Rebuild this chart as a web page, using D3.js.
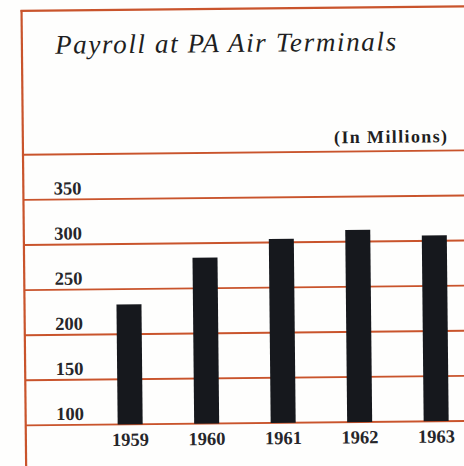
<!DOCTYPE html>
<html lang="en">
<head>
  <meta charset="UTF-8">
  <script src="https://d3js.org/d3.v7.min.js"></script>
  <title>Payroll at PA Air Terminals</title>
  <style>
    body { margin: 0; background: #fefefd; }
  </style>
</head>
<body>
  <svg id="chart" width="464" height="466"></svg>
  <script>
    // data (millions of dollars)
    var years = ["1959", "1960", "1961", "1962", "1963"];
    var payroll = [233, 284, 304, 313, 306];
    var tickValues = [100, 150, 200, 250, 300, 350];
    var title = "Payroll at PA Air Terminals";
    var unitLabel = "(In Millions)";

    var svg = d3.select("#chart"),
      width = +svg.attr("width"),
      height = +svg.attr("height");

    var red = "#c9542c";

    // the scanned page is slightly tilted
    var g = svg.append("g")
      .attr("transform", "rotate(-0.58," + width / 2 + "," + height / 2 + ")");

    var frameLeft = 23.8, frameTop = 8.8;

    var x = d3.scaleBand()
      .domain(years)
      .range([90, 472.5])
      .paddingInner(0.673)
      .paddingOuter(0.3365);

    var y = d3.scaleLinear()
      .domain([100, 400])
      .range([423.3, 152.7]);

    // frame
    g.append("line")
      .attr("x1", frameLeft).attr("x2", frameLeft)
      .attr("y1", frameTop - 1).attr("y2", height + 10)
      .attr("stroke", red).attr("stroke-width", 2.2);
    g.append("line")
      .attr("x1", frameLeft - 1).attr("x2", width + 20)
      .attr("y1", frameTop).attr("y2", frameTop)
      .attr("stroke", red).attr("stroke-width", 2.2);

    // grid lines (baseline 100 up to header rule at 400)
    g.append("g")
      .selectAll("line")
      .data(d3.range(100, 401, 50))
      .enter()
      .append("line")
        .attr("x1", frameLeft).attr("x2", width + 20)
        .attr("y1", function(d) { return y(d); })
        .attr("y2", function(d) { return y(d); })
        .attr("stroke", red)
        .attr("stroke-width", 1.9);

    // title
    g.append("text")
      .attr("x", 57).attr("y", 52)
      .attr("textLength", 341)
      .attr("lengthAdjust", "spacing")
      .style("font-family", "'Liberation Serif', serif")
      .style("font-style", "italic")
      .style("font-size", "27px")
      .style("fill", "#1e1e22")
      .text(title);

    g.append("text")
      .attr("x", 335).attr("y", 144.3)
      .attr("textLength", 113)
      .attr("lengthAdjust", "spacing")
      .style("font-family", "'Liberation Serif', serif")
      .style("font-weight", "bold")
      .style("font-size", "18px")
      .style("fill", "#1e1e22")
      .text(unitLabel);

    // y tick labels sit just above their line
    g.append("g")
      .selectAll("text")
      .data(tickValues)
      .enter()
      .append("text")
        .attr("x", 82)
        .attr("y", function(d) { return y(d) - 5; })
        .attr("text-anchor", "end")
        .style("font-family", "'Liberation Serif', serif")
        .style("font-weight", "bold")
        .style("font-size", "18.5px")
        .style("fill", "#26262a")
        .text(function(d) { return d; });

    // bars
    g.append("g")
      .selectAll("rect")
      .data(years)
      .enter()
      .append("rect")
        .attr("x", function(d) { return x(d); })
        .attr("width", x.bandwidth())
        .attr("y", function(d, i) { return y(payroll[i]); })
        .attr("height", function(d, i) { return y(100) - y(payroll[i]); })
        .attr("fill", "#16181d");

    // year labels
    g.append("g")
      .selectAll("text")
      .data(years)
      .enter()
      .append("text")
        .attr("x", function(d) { return x(d) + x.bandwidth() / 2; })
        .attr("y", y(100) + 21.4)
        .attr("text-anchor", "middle")
        .style("font-family", "'Liberation Serif', serif")
        .style("font-weight", "bold")
        .style("font-size", "18.5px")
        .style("fill", "#26262a")
        .text(function(d) { return d; });
  </script>
</body>
</html>
